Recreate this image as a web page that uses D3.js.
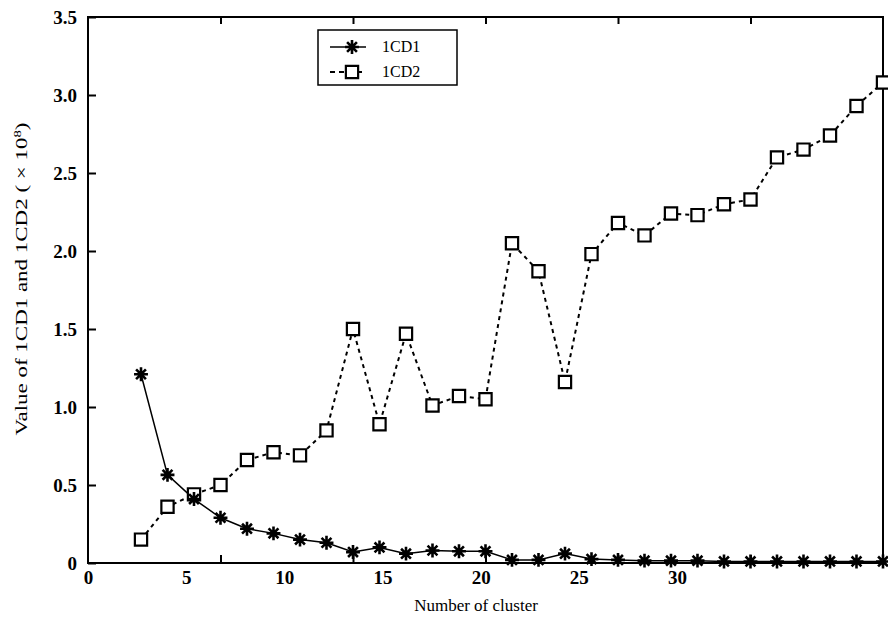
<!DOCTYPE html>
<html>
<head>
<meta charset="utf-8">
<script src="https://cdn.jsdelivr.net/npm/d3@7"></script>
<style>
  body { margin: 0; background: #fff; }
  text { font-family: "Liberation Serif", "Times New Roman", serif; fill: #000; }
</style>
</head>
<body>
<div id="chart"></div>
<script>
const WIDTH = 888;
const HEIGHT = 620;

// number of clusters (x) and the two index values (x 10^8)
const clusters = [2,3,4,5,6,7,8,9,10,11,12,13,14,15,16,17,18,19,20,21,22,23,24,25,26,27,28,29,30];
const icd1 = [1.21,0.565,0.41,0.29,0.22,0.19,0.15,0.13,0.07,0.10,0.06,0.08,0.075,0.075,0.02,0.02,0.06,0.025,0.02,0.015,0.015,0.015,0.01,0.01,0.01,0.01,0.01,0.01,0.01];
const icd2 = [0.15,0.36,0.44,0.50,0.66,0.71,0.69,0.85,1.50,0.89,1.47,1.01,1.07,1.05,2.05,1.87,1.16,1.98,2.18,2.10,2.24,2.23,2.30,2.33,2.60,2.65,2.74,2.93,3.08];

const xTicks = [0,5,10,15,20,25,30];
const yTicks = [0,0.5,1.0,1.5,2.0,2.5,3.0,3.5];
const seriesNames = ["1CD1","1CD2"];

// 8-armed asterisk like the old matlab '*' marker
const star8 = {
    draw(context,size){
        let r = Math.sqrt(size)*0.55;
        for (let k=0;k<4;k++){
            let a = k*Math.PI/4;
            context.moveTo(-r*Math.cos(a),-r*Math.sin(a));
            context.lineTo(r*Math.cos(a),r*Math.sin(a));
        }
    }
};

function setup(){
    let svg = d3.select("#chart")
        .append("svg")
        .attr("width",WIDTH)
        .attr("height",HEIGHT);

    let margin = {top:17, right:5, bottom:57, left:88};

    let x = d3.scaleLinear()
        .domain([0,30])
        .range([margin.left,WIDTH-margin.right]);
    // the printed x labels in the original sit off their ticks, squeezed to the left
    let xLabel = d3.scaleLinear()
        .domain([0,30])
        .range([margin.left,677]);
    let y = d3.scaleLinear()
        .domain([0,3.5])
        .range([HEIGHT-margin.bottom,margin.top]);

    // frame
    svg.append("rect")
        .attr("x",margin.left)
        .attr("y",margin.top)
        .attr("width",WIDTH-margin.left-margin.right)
        .attr("height",HEIGHT-margin.top-margin.bottom)
        .style("fill","none")
        .style("stroke","#000")
        .style("stroke-width",2);

    // inward tick marks bottom & top
    let inner = xTicks.slice(1,-1);
    svg.append("g")
        .attr("transform",`translate(0,${HEIGHT-margin.bottom})`)
        .call(d3.axisBottom(x).tickValues(inner).tickSize(-8).tickFormat(""))
        .call(g => g.select(".domain").remove())
        .call(g => g.selectAll("line").style("stroke-width",2));
    svg.append("g")
        .attr("transform",`translate(0,${margin.top})`)
        .call(d3.axisTop(x).tickValues(inner).tickSize(-7).tickFormat(""))
        .call(g => g.select(".domain").remove())
        .call(g => g.selectAll("line").style("stroke-width",2));

    // x labels
    svg.append("g")
        .attr("transform",`translate(0,${HEIGHT-margin.bottom})`)
        .call(d3.axisBottom(xLabel).tickValues(xTicks).tickSize(0).tickPadding(8).tickFormat(d3.format("d")))
        .call(g => g.select(".domain").remove())
        .call(g => g.selectAll("text")
            .style("font-family","'Liberation Serif', serif")
            .style("font-size","19px")
            .style("font-weight","bold"));

    // y axis
    svg.append("g")
        .attr("transform",`translate(${margin.left},0)`)
        .call(d3.axisLeft(y).tickValues(yTicks).tickSize(-8).tickPadding(11)
            .tickFormat(d => d === 0 ? "0" : d3.format(".1f")(d)))
        .call(g => g.select(".domain").remove())
        .call(g => g.selectAll("line").style("stroke-width",2))
        .call(g => g.selectAll("text")
            .style("font-family","'Liberation Serif', serif")
            .style("font-size","19px")
            .style("font-weight","bold"));

    // axis titles
    svg.append("text")
        .attr("x",476)
        .attr("y",611)
        .attr("text-anchor","middle")
        .style("font-size","17px")
        .text("Number of cluster");

    let yt = svg.append("text")
        .attr("transform","translate(27,279) rotate(-90)")
        .attr("text-anchor","middle")
        .attr("textLength",313)
        .attr("lengthAdjust","spacingAndGlyphs")
        .style("font-size","17px");
    yt.append("tspan").text("Value of 1CD1 and 1CD2 ( × 10");
    yt.append("tspan").attr("dy",-6).style("font-size","11px").text("8");
    yt.append("tspan").attr("dy",6).text(")");

    let line1 = d3.line().x((d,i)=>x(clusters[i])).y(d=>y(d));

    // 1CD2 dashed with squares
    svg.append("path")
        .attr("d",line1(icd2))
        .style("fill","none")
        .style("stroke","#000")
        .style("stroke-width",2)
        .style("stroke-dasharray","4,4");

    // 1CD1 solid with stars
    svg.append("path")
        .attr("d",line1(icd1))
        .style("fill","none")
        .style("stroke","#000")
        .style("stroke-width",1.5);

    let square = d3.symbol(d3.symbolSquare,150);
    let star = d3.symbol(star8,160);

    svg.selectAll(".sq")
        .data(icd2)
        .enter()
        .append("path")
        .attr("class","sq")
        .attr("transform",(d,i)=>`translate(${x(clusters[i])},${y(d)})`)
        .attr("d",square)
        .style("fill","#fff")
        .style("stroke","#000")
        .style("stroke-width",2.2);

    svg.selectAll(".st")
        .data(icd1)
        .enter()
        .append("path")
        .attr("class","st")
        .attr("transform",(d,i)=>`translate(${x(clusters[i])},${y(d)})`)
        .attr("d",star)
        .style("fill","none")
        .style("stroke","#000")
        .style("stroke-width",2.6);

    // legend
    let legend = svg.append("g");
    legend.append("rect")
        .attr("x",318)
        .attr("y",30)
        .attr("width",139)
        .attr("height",55)
        .style("fill","#fff")
        .style("stroke","#000")
        .style("stroke-width",1.5);

    seriesNames.forEach((name,i) => {
        let ly = 47 + i*25;
        legend.append("line")
            .attr("x1",330).attr("x2",366)
            .attr("y1",ly).attr("y2",ly)
            .style("stroke","#000")
            .style("stroke-width",i === 0 ? 1.5 : 2)
            .style("stroke-dasharray",i === 0 ? null : "5,4");
        legend.append("path")
            .attr("transform",`translate(352,${ly})`)
            .attr("d",i === 0 ? star : square)
            .style("fill",i === 0 ? "none" : "#fff")
            .style("stroke","#000")
            .style("stroke-width",i === 0 ? 2.6 : 2.2);
        legend.append("text")
            .attr("x",382)
            .attr("y",ly+5)
            .style("font-size","16px")
            .text(name);
    });
}

window.addEventListener("load",setup);
</script>
</body>
</html>
